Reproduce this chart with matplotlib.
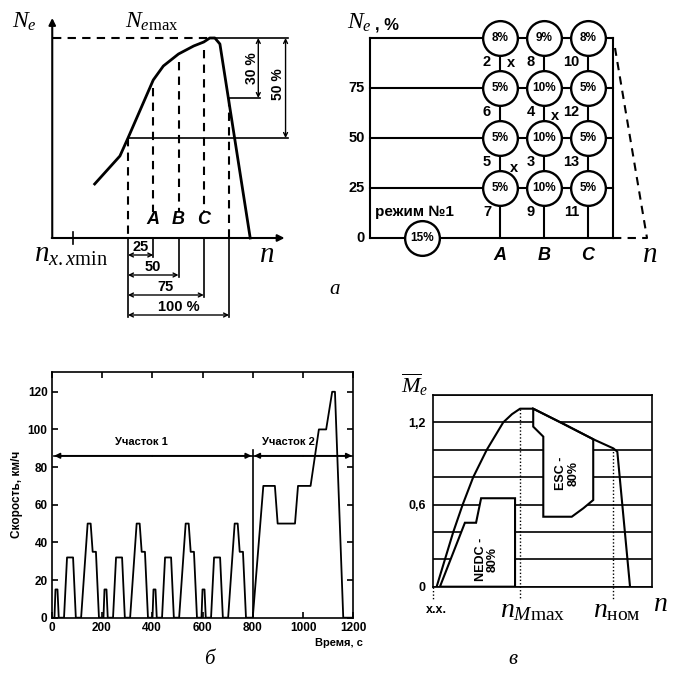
import numpy as np
import matplotlib.pyplot as plt
from matplotlib.ticker import MultipleLocator

plt.rcParams['font.family'] = ['Liberation Sans', 'DejaVu Sans']
plt.rcParams['mathtext.fontset'] = 'custom'
plt.rcParams['mathtext.it'] = 'Liberation Serif:italic'
plt.rcParams['mathtext.rm'] = 'Liberation Serif'
plt.rcParams['mathtext.bf'] = 'Liberation Serif:bold'

# ---- panel a (left): power curve, n in % of A..100 range, Ne in %
power_n = [-33, -8, 0, 25, 35, 50, 65, 75, 81, 86, 91, 121]
power_ne = [27, 41, 50, 79, 86, 92, 96, 98, 100, 100, 97, 0]
dim_n = [25, 50, 75, 100]
dim_labels = ['25', '50', '75', '100 %']
abc_names = ['A', 'B', 'C']
abc_ne = [79, 92, 98]

# ---- panel a (right): 13-mode test grid
load_levels = [100, 75, 50, 25]
col_x = [130, 174, 218]
grid_right = 243
shares = [['8%', '9%', '8%'],
          ['5%', '10%', '5%'],
          ['5%', '10%', '5%'],
          ['5%', '10%', '5%']]
mode_nums = [['2', '8', '10'],
             ['6', '4', '12'],
             ['5', '3', '13'],
             ['7', '9', '11']]
idle_x = 52
idle_share = '15%'
cross_x = [141, 185, 144]
cross_y = [87.7, 61, 35]

# ---- panel b: driving cycle (ECE-15 x4 + EUDC)
cyc_t = [0, 11, 15, 23, 28, 49, 61, 85, 96, 117, 143, 155, 163, 176, 188,
         195, 206, 210, 218, 223, 244, 256, 280, 291, 312, 338, 350, 358, 371, 383,
         390, 401, 405, 413, 418, 439, 451, 475, 486, 507, 533, 545, 553, 566, 578,
         585, 596, 600, 608, 613, 634, 646, 670, 681, 702, 728, 740, 748, 761, 773,
         780, 800, 842, 888, 899, 968, 980, 1030, 1063, 1092, 1116, 1127, 1160, 1200]
cyc_v = [0, 0, 15, 15, 0, 0, 32, 32, 0, 0, 50, 50, 35, 35, 0,
         0, 0, 15, 15, 0, 0, 32, 32, 0, 0, 50, 50, 35, 35, 0,
         0, 0, 15, 15, 0, 0, 32, 32, 0, 0, 50, 50, 35, 35, 0,
         0, 0, 15, 15, 0, 0, 32, 32, 0, 0, 50, 50, 35, 35, 0,
         0, 0, 70, 70, 50, 50, 70, 70, 100, 100, 120, 120, 0, 0]
part_split = 800
part_v = 86

# ---- panel v: relative torque curve and test regions
torque_x = [1.8, 9.4, 13.7, 18.5, 24.7, 32.2, 36.2, 39.9, 45.9, 59.6, 73.3, 82.5, 84.3, 90.1]
torque_y = [0, 0.40, 0.60, 0.80, 1.0, 1.2, 1.26, 1.30, 1.30, 1.19, 1.077, 1.01, 0.986, 0]
nedc_x = [3.3, 14.7, 19.8, 22.1, 37.6, 37.6]
nedc_y = [0, 0.467, 0.467, 0.646, 0.646, 0]
esc_x = [45.9, 45.9, 50.5, 50.5, 63.5, 68.8, 73.3, 73.3, 59.6, 45.9]
esc_y = [1.30, 1.169, 1.096, 0.511, 0.511, 0.573, 0.633, 1.077, 1.19, 1.30]
n_mmax = 39.9
n_nom = 82.5

W, H = 677, 673
fig = plt.figure(figsize=(W / 100, H / 100), dpi=100)
fig.patch.set_facecolor('white')


def px_axes(x0, y0, x1, y1):
    return fig.add_axes([x0 / W, 1 - y1 / H, (x1 - x0) / W, (y1 - y0) / H])


k = 'black'
lw = 1.5
dash = (0, (4, 3))
arr = dict(arrowstyle='<->', color=k, lw=1.0, shrinkA=0, shrinkB=0,
           mutation_scale=7)

# ===================== panel a, left =====================
ax1 = px_axes(0, 0, 340, 330)
ax1.set_xlim((0 - 128) / 1.01, (340 - 128) / 1.01)
ax1.set_ylim((238 - 330) / 2, 119)
ax1.axis('off')

ax1.annotate('', xy=(-75, 110), xytext=(-75, 0),
             arrowprops=dict(arrowstyle='-|>', color=k, lw=lw, mutation_scale=10, shrinkA=0, shrinkB=0))
ax1.annotate('', xy=(155, 0), xytext=(-75.5, 0),
             arrowprops=dict(arrowstyle='-|>', color=k, lw=lw, mutation_scale=10, shrinkA=0, shrinkB=0))
ax1.plot([-54, -54], [-3, 3], color=k, lw=1.2)
ax1.plot(power_n, power_ne, color=k, lw=2)

ax1.plot([-74, 86], [100, 100], color=k, lw=lw, ls=dash)
ax1.plot([86, 158], [100, 100], color=k, lw=1.2)
ax1.plot([0, 158], [50, 50], color=k, lw=1.2)
ax1.plot([100, 131], [70, 70], color=k, lw=1.2)
ax1.annotate('', xy=(129, 100), xytext=(129, 70), arrowprops=arr)
ax1.annotate('', xy=(156, 100), xytext=(156, 50), arrowprops=arr)
ax1.text(122.5, 85, '30 %', rotation=90, ha='center', va='center', fontsize=10, fontweight='bold')
ax1.text(148.8, 77, '50 %', rotation=90, ha='center', va='center', fontsize=10, fontweight='bold')

ax1.plot([0, 0], [50, 0], color=k, lw=lw, ls=dash)
ax1.plot([100, 100], [70, 0], color=k, lw=lw, ls=dash)
for n, name, ne in zip(dim_n[:3], abc_names, abc_ne):
    ax1.plot([n, n], [ne - 4, 13], color=k, lw=lw, ls=dash)
    ax1.text(n, 9, name, ha='center', va='center', fontsize=13,
             fontweight='bold', style='italic')

ax1.plot([0, 0], [0, -39.5], color=k, lw=1.2)
for i, (n, lab) in enumerate(zip(dim_n, dim_labels)):
    yy = -8.5 - 10 * i
    ax1.plot([n, n], [0, yy - 1], color=k, lw=1.2)
    ax1.annotate('', xy=(0, yy), xytext=(n, yy), arrowprops=arr)
    ax1.text(n / 2, yy + 4, lab, ha='center', va='center', fontsize=10.5, fontweight='bold')

ax1.text(-115, 105, r'$N_e$', fontsize=17, ha='left', va='baseline')
ax1.text(-3, 105, r'$N_{e\mathrm{max}}$', fontsize=17, ha='left', va='baseline')
ax1.text(-56, -12, r'$n_{x.x\mathrm{min}}$', fontsize=21, ha='center', va='baseline')
ax1.text(137, -12, r'$n$', fontsize=21, ha='center', va='baseline')

# ===================== panel a, right =====================
ax2 = px_axes(340, 0, 677, 330)
ax2.set_xlim(-30, 307)
ax2.set_ylim((238 - 330) / 2, 119)
ax2.axis('off')

for lev in [0] + load_levels:
    ax2.plot([0, grid_right], [lev, lev], color=k, lw=lw, zorder=1)
ax2.plot([0, 0], [0, 100], color=k, lw=lw, zorder=1)
ax2.plot([grid_right, grid_right], [0, 100], color=k, lw=lw, zorder=1)
for cx in col_x:
    ax2.plot([cx, cx], [0, 100], color=k, lw=lw, zorder=1)
ax2.plot([grid_right, 277, 245], [0, 0, 95], color=k, lw=lw, ls=dash, zorder=1)

for r, lev in enumerate(load_levels):
    for c, cx in enumerate(col_x):
        ax2.plot(cx, lev, 'o', ms=25, mfc='white', mec=k, mew=1.7, zorder=3)
        ax2.text(cx, lev, shares[r][c], ha='center', va='center', fontsize=8.5,
                 fontweight='bold', zorder=4)
        ax2.text(cx - 9, lev - 12, mode_nums[r][c], ha='right', va='center',
                 fontsize=10.5, fontweight='bold')
ax2.plot(idle_x, 0, 'o', ms=25, mfc='white', mec=k, mew=1.7, zorder=3)
ax2.text(idle_x, 0, idle_share, ha='center', va='center', fontsize=8.5,
         fontweight='bold', zorder=4)
for xx, yy in zip(cross_x, cross_y):
    ax2.text(xx, yy, 'x', ha='center', va='center', fontsize=10.5, fontweight='bold')

for lev in [75, 50, 25, 0]:
    ax2.text(-5, lev, str(lev), ha='right', va='center', fontsize=10.5, fontweight='bold')
ax2.text(44, 13, 'режим №1', ha='center', va='center', fontsize=11, fontweight='bold')
for cx, name in zip(col_x, abc_names):
    ax2.text(cx, -8.5, name, ha='center', va='center', fontsize=13,
             fontweight='bold', style='italic')
ax2.text(280, -12, r'$n$', fontsize=21, ha='center', va='baseline')
ax2.text(-23, 104.5, r'$N_e$', fontsize=17, ha='left', va='baseline')
ax2.text(5, 104.5, ', %', fontsize=12, fontweight='bold', ha='left', va='baseline')

fig.text(335 / W, 1 - 290 / H, 'а', fontsize=15, style='italic',
         family='Liberation Serif', ha='center', va='center')

# ===================== panel b =====================
ax3 = px_axes(51.7, 372, 353.3, 617.7)
ax3.plot(cyc_t, cyc_v, color=k, lw=1.3)
ax3.set_xlim(0, 1200)
ax3.set_ylim(0, 130.5)
ax3.set_xticks(range(0, 1201, 200))
ax3.set_yticks(range(0, 121, 20))
ax3.tick_params(direction='in', top=True, right=True, length=4, width=1.2,
                labelsize=8.5, pad=3)
for lab in ax3.get_xticklabels() + ax3.get_yticklabels():
    lab.set_fontweight('bold')
for sp in ax3.spines.values():
    sp.set_linewidth(1.2)
ax3.set_ylabel('Скорость, км/ч', fontsize=8.5, fontweight='bold', labelpad=3)
ax3.text(1239, -13.4, 'Время, с', fontsize=8, fontweight='bold', ha='right', va='center',
         clip_on=False)
ax3.plot([part_split, part_split], [0, 89], color=k, lw=1.2)
arr2 = dict(arrowstyle='-|>', color=k, lw=1.2, shrinkA=0, shrinkB=0, mutation_scale=8)
ax3.plot([10, 1195], [part_v, part_v], color=k, lw=1.2)
for a, b in [(400, 10), (400, 795), (1000, 805), (1000, 1195)]:
    ax3.annotate('', xy=(b, part_v), xytext=(a, part_v), arrowprops=arr2)
ax3.text(355, 93.5, 'Участок 1', ha='center', va='center', fontsize=8, fontweight='bold')
ax3.text(942, 93.5, 'Участок 2', ha='center', va='center', fontsize=8, fontweight='bold')

fig.text(209 / W, 1 - 660 / H, 'б', fontsize=15, style='italic',
         family='Liberation Serif', ha='center', va='center')

# ===================== panel v =====================
ax4 = px_axes(432.7, 395, 651.7, 586.7)
ax4.set_xlim(0, 100)
ax4.set_ylim(0, 1.4)
ax4.set_xticks([])
ax4.set_yticks([0, 0.6, 1.2])
ax4.set_yticklabels(['0', '0,6', '1,2'])
ax4.yaxis.set_minor_locator(MultipleLocator(0.2))
ax4.grid(axis='y', which='both', color=k, lw=1.2, zorder=0)
ax4.set_axisbelow(True)
ax4.tick_params(which='both', length=0, labelsize=9, pad=5)
for lab in ax4.get_yticklabels():
    lab.set_fontweight('bold')
for sp in ax4.spines.values():
    sp.set_linewidth(1.2)

ax4.plot(torque_x, torque_y, color=k, lw=1.5, zorder=3)
ax4.fill(nedc_x, nedc_y, facecolor='white', edgecolor=k, lw=1.5, zorder=2)
ax4.fill(esc_x, esc_y, facecolor='white', edgecolor=k, lw=1.5, zorder=2)
ax4.text(24.8, 0.2, 'NEDC -\n80%', rotation=90, ha='center', va='center',
         fontsize=9, fontweight='bold', linespacing=1.0, zorder=4)
ax4.text(61.5, 0.83, 'ESC -\n80%', rotation=90, ha='center', va='center',
         fontsize=9, fontweight='bold', linespacing=1.0, zorder=4)

dot = (0, (1, 1.5))
ax4.plot([0, 0], [0, -0.1], color=k, lw=1, ls=dot, clip_on=False)
ax4.plot([n_mmax, n_mmax], [1.3, -0.1], color=k, lw=1, ls=dot, clip_on=False, zorder=1)
ax4.plot([n_nom, n_nom], [1.01, -0.1], color=k, lw=1, ls=dot, clip_on=False, zorder=1)
ax4.text(1.8, -0.19, 'х.х.', ha='center', va='baseline', fontsize=9, fontweight='bold')
ax4.text(45.5, -0.22, r'$n_{M\mathrm{max}}$', ha='center', va='baseline', fontsize=20)
ax4.text(84, -0.22, r'$n_{\mathrm{ном}}$', ha='center', va='baseline', fontsize=20)
ax4.text(104, -0.18, r'$n$', ha='center', va='baseline', fontsize=20)
ax4.text(-14.5, 1.415, r'$\overline{M}_e$', ha='left', va='baseline', fontsize=16)

fig.text(513 / W, 1 - 660 / H, 'в', fontsize=15, style='italic',
         family='Liberation Serif', ha='center', va='center')

fig.savefig('out.png', dpi=100, facecolor='white')
